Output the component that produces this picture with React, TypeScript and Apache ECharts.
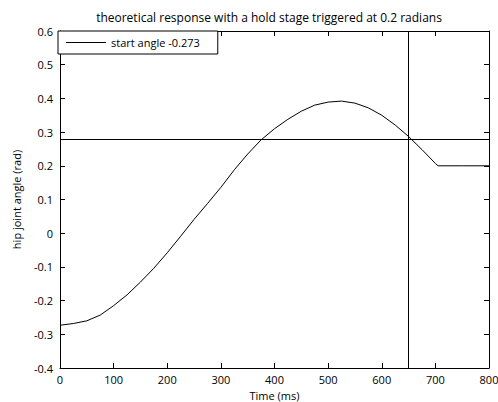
import React, { useEffect, useRef } from "react";
import * as echarts from "echarts";

const times = [0, 25, 50, 75, 100, 125, 150, 175, 200, 225, 250, 275, 300, 325, 350, 375, 400, 425, 450, 475, 500, 525, 550, 575, 600, 625, 650, 675, 700, 705, 750, 800];
const angles = [-0.273, -0.268, -0.26, -0.243, -0.215, -0.183, -0.145, -0.104, -0.058, -0.009, 0.041, 0.088, 0.136, 0.188, 0.235, 0.277, 0.31, 0.338, 0.362, 0.38, 0.389, 0.392, 0.386, 0.372, 0.35, 0.321, 0.287, 0.248, 0.207, 0.2, 0.2, 0.2];
const triggerTime = 650;
const thresholdAngle = 0.278;
const seriesName = "start angle -0.273";
const titleText = "theoretical response with a hold stage triggered at 0.2 radians";

const FONT = "Open Sans";

export default function App() {
  const ref = useRef<HTMLDivElement>(null);
  useEffect(() => {
    const chart = echarts.init(ref.current!, null, { renderer: "svg" });
    const axisCommon = {
      axisLine: { show: true, onZero: false, lineStyle: { color: "#000", width: 1 } },
      axisTick: { show: true, inside: true, length: 5, lineStyle: { color: "#000" } },
      splitLine: { show: false },
    };
    chart.setOption({
      animation: false,
      backgroundColor: "#fff",
      title: {
        text: titleText,
        left: 264,
        textAlign: "center",
        top: 6,
        textStyle: { fontFamily: FONT, fontSize: 12, fontWeight: "normal", color: "#000" },
      },
      grid: { left: 60, right: 9, top: 31, bottom: 34, containLabel: false, outerBoundsMode: "none" },
      legend: {
        left: 58,
        top: 31,
        orient: "vertical",
        backgroundColor: "#fff",
        borderColor: "#000",
        borderWidth: 1,
        borderRadius: 0,
        padding: [4, 18, 4, 8],
        itemWidth: 40,
        itemHeight: 1,
        data: [{ name: seriesName, icon: "rect" }],
        itemStyle: { color: "#000" },
        textStyle: { fontFamily: FONT, fontSize: 11, color: "#000", lineHeight: 15 },
      },
      xAxis: [
        {
          type: "value",
          min: 0,
          max: 800,
          interval: 100,
          name: "Time (ms)",
          nameLocation: "middle",
          nameGap: 22,
          nameTextStyle: { fontFamily: FONT, fontSize: 11, color: "#000" },
          axisLabel: { fontFamily: FONT, fontSize: 11, color: "#000", margin: 6 },
          ...axisCommon,
        },
        {
          type: "value",
          position: "top",
          min: 0,
          max: 800,
          interval: 100,
          axisLabel: { show: false },
          ...axisCommon,
        },
      ],
      yAxis: [
        {
          type: "value",
          min: -0.4,
          max: 0.6,
          interval: 0.1,
          name: "hip joint angle (rad)",
          nameLocation: "middle",
          nameGap: 38,
          nameRotate: 90,
          nameTextStyle: { fontFamily: FONT, fontSize: 11, color: "#000" },
          axisLabel: {
            fontFamily: FONT,
            fontSize: 11,
            color: "#000",
            margin: 7,
            formatter: (v: number) => String(Math.round(v * 10) / 10),
          },
          ...axisCommon,
        },
        {
          type: "value",
          position: "right",
          min: -0.4,
          max: 0.6,
          interval: 0.1,
          axisLabel: { show: false },
          ...axisCommon,
        },
      ],
      series: [
        {
          name: seriesName,
          type: "line",
          data: times.map((t, i) => [t, angles[i]]),
          symbol: "none",
          showSymbol: false,
          smooth: false,
          lineStyle: { color: "#000", width: 1 },
          itemStyle: { color: "#000" },
          markLine: {
            silent: true,
            symbol: "none",
            label: { show: false },
            lineStyle: { color: "#000", width: 1, type: "solid" },
            data: [{ xAxis: triggerTime }, { yAxis: thresholdAngle }],
          },
        },
      ],
    });
    return () => chart.dispose();
  }, []);
  return <div ref={ref} style={{ width: 498, height: 402, position: "absolute", left: 0, top: 0 }} />;
}
